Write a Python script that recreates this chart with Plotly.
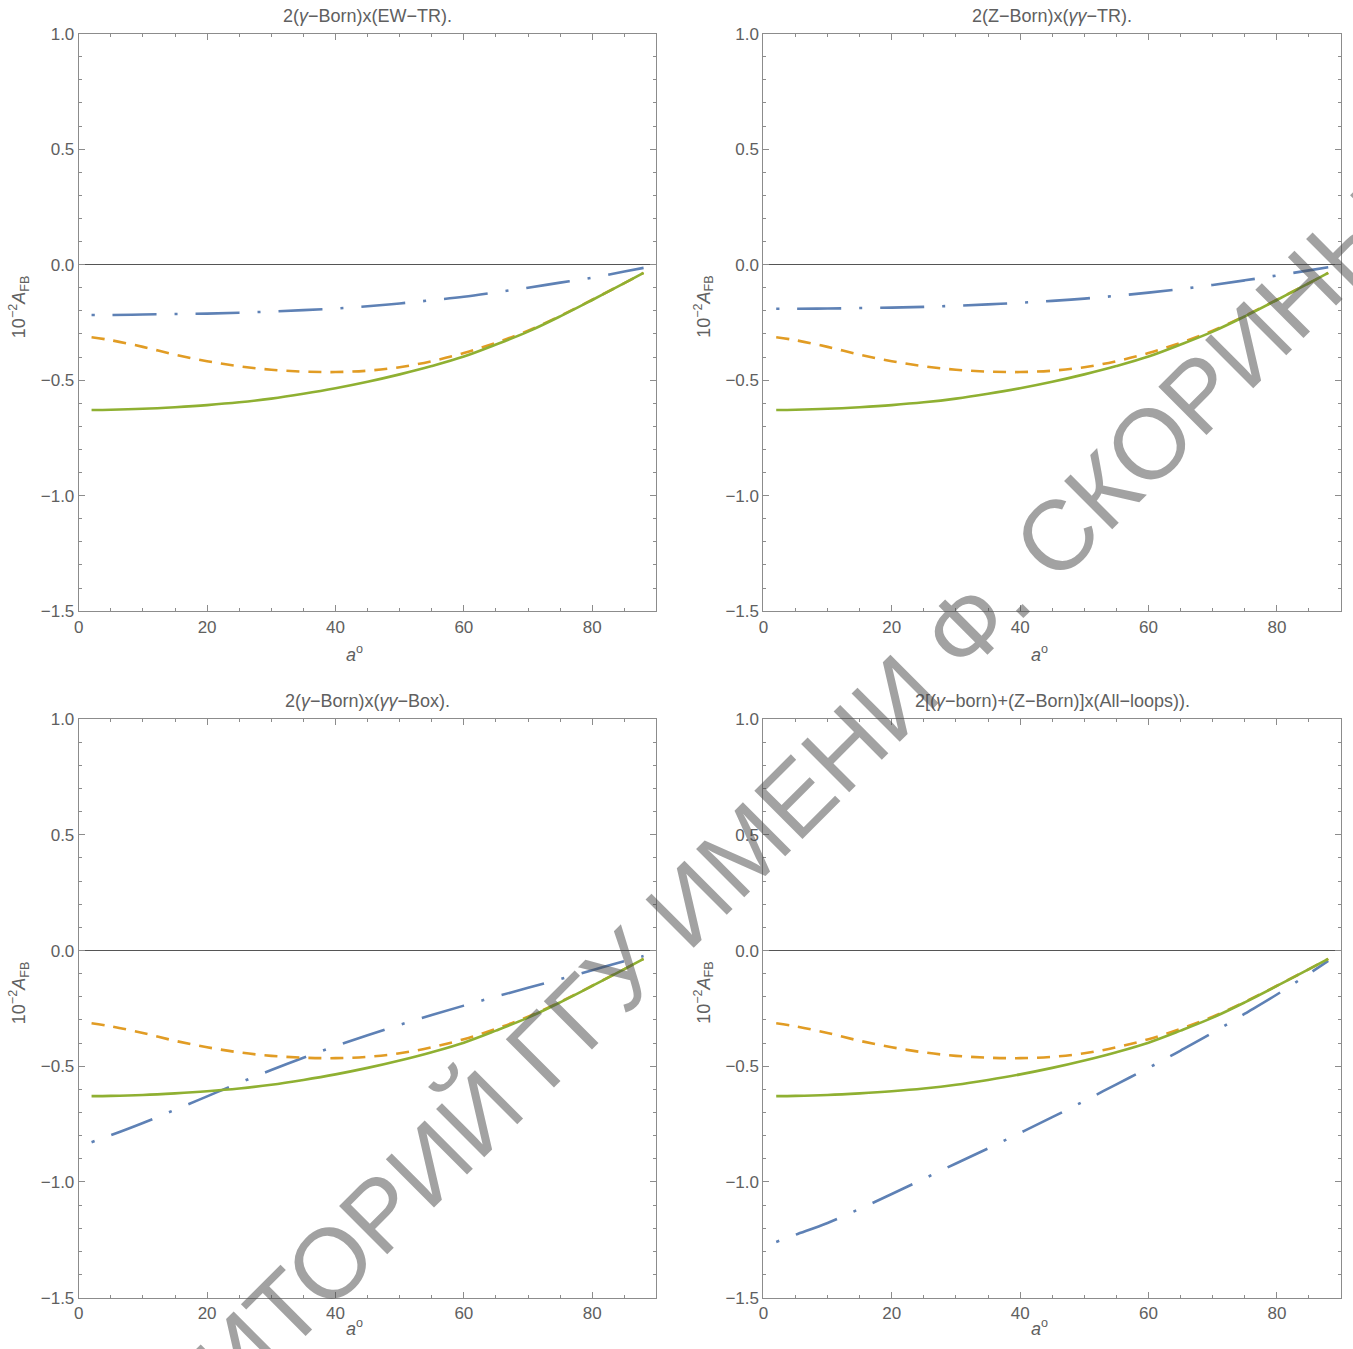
import plotly.graph_objects as go

# ---------------- data ----------------
x_deg = [2, 5, 10, 15, 20, 25, 30, 35, 40, 45, 50, 55, 60, 65, 70, 75, 80, 85, 88]

green_all = [-0.629, -0.628, -0.624, -0.617, -0.608, -0.596, -0.580, -0.559, -0.535, -0.507,
             -0.475, -0.439, -0.398, -0.346, -0.290, -0.224, -0.153, -0.080, -0.036]
orange_all = [-0.314, -0.327, -0.356, -0.390, -0.418, -0.440, -0.455, -0.463, -0.465, -0.459,
              -0.444, -0.418, -0.383, -0.338, -0.286, -0.222, -0.152, -0.080, -0.036]

blue_tl = [-0.218, -0.218, -0.216, -0.214, -0.212, -0.208, -0.203, -0.197, -0.190, -0.180,
           -0.168, -0.154, -0.139, -0.120, -0.100, -0.078, -0.057, -0.030, -0.014]
blue_tr = [-0.191, -0.191, -0.190, -0.188, -0.186, -0.183, -0.178, -0.172, -0.165, -0.157,
           -0.147, -0.135, -0.121, -0.106, -0.088, -0.068, -0.047, -0.025, -0.011]
blue_bl = [-0.828, -0.798, -0.745, -0.688, -0.630, -0.572, -0.516, -0.463, -0.413, -0.366,
           -0.321, -0.279, -0.238, -0.199, -0.161, -0.123, -0.085, -0.046, -0.024]
blue_br = [-1.259, -1.228, -1.177, -1.116, -1.052, -0.986, -0.920, -0.855, -0.788, -0.720,
           -0.650, -0.578, -0.507, -0.432, -0.355, -0.273, -0.190, -0.100, -0.045]

titles = [
    "2(<i>γ</i>−Born)x(EW−TR).",
    "2(Z−Born)x(<i>γγ</i>−TR).",
    "2(<i>γ</i>−Born)x(<i>γγ</i>−Box).",
    "2[(<i>γ</i>−born)+(Z−Born)]x(All−loops)).",
]
blue_series = [blue_tl, blue_tr, blue_bl, blue_br]

x_range = [0, 90]
y_range = [-1.5, 1.0]
watermark = "РЕПОЗИТОРИЙ ГГУ ИМЕНИ Ф. СКОРИНЫ"

# ---------------- layout constants ----------------
W, H = 1353, 1349
BLUE, ORANGE, GREEN = "#5E81B5", "#E19C24", "#8FB032"
FRAME = "#8c8c8c"
TXT = "#606060"
FONT = "Liberation Sans, Arial, sans-serif"

# target panel pixel boxes in the picture: (left, right, top, bottom)
boxes = [(78, 656, 33, 611), (763, 1341, 33, 611),
         (78, 656, 719, 1298), (763, 1341, 719, 1298)]

# page -> picture calibration observed from earlier renders
SX, CX = 0.9968, 4.25
SY, CY = 0.9866, 8.4

def px(v):
    return ((v - CX) / SX) / W

def py(v):
    return 1 - ((v - CY) / SY) / H

fig = go.Figure()
layout = dict(
    width=W, height=H, margin=dict(l=0, r=0, t=0, b=0),
    paper_bgcolor="white", plot_bgcolor="white", showlegend=False,
    font=dict(family=FONT, color=TXT),
)
annotations = []

for i, (l, r, t, b) in enumerate(boxes):
    n = "" if i == 0 else str(i + 1)
    xa, ya = "x" + n, "y" + n
    fig.add_trace(go.Scatter(x=x_deg, y=blue_series[i], mode="lines", xaxis=xa, yaxis=ya,
                             line=dict(color=BLUE, width=2.6, dash="3px,18px,44px,18px", shape="spline")))
    fig.add_trace(go.Scatter(x=x_deg, y=orange_all, mode="lines", xaxis=xa, yaxis=ya,
                             line=dict(color=ORANGE, width=2.6, dash="13px,9px", shape="spline")))
    fig.add_trace(go.Scatter(x=x_deg, y=green_all, mode="lines", xaxis=xa, yaxis=ya,
                             line=dict(color=GREEN, width=2.6, shape="spline")))

    layout["xaxis" + n] = dict(
        domain=[px(l), px(r)], range=x_range, anchor=ya,
        showgrid=False, zeroline=False, showline=True, linecolor=FRAME, linewidth=1,
        mirror="allticks", ticks="inside", ticklen=6, tickcolor=FRAME,
        tick0=0, dtick=20, tickfont=dict(size=17, color=TXT, family=FONT),
        minor=dict(ticks="inside", ticklen=3, dtick=5, tickcolor=FRAME, showgrid=False),
    )
    layout["yaxis" + n] = dict(
        domain=[py(b), py(t)], range=y_range, anchor=xa,
        showgrid=False, zeroline=True, zerolinecolor="#555555", zerolinewidth=1,
        showline=True, linecolor=FRAME, linewidth=1,
        mirror="allticks", ticks="inside", ticklen=6, tickcolor=FRAME,
        tick0=0, dtick=0.5, tickformat=".1f", tickfont=dict(size=17, color=TXT, family=FONT),
        minor=dict(ticks="inside", ticklen=3, dtick=0.1, tickcolor=FRAME, showgrid=False),
    )
    cx = (l + r) / 2
    xlab_y = b + 42 if i < 2 else b + 30
    annotations.append(dict(text=titles[i], x=px(cx), y=py(t - 18), xref="paper", yref="paper",
                            showarrow=False, xanchor="center", yanchor="middle",
                            font=dict(size=18, color=TXT, family=FONT)))
    annotations.append(dict(text="<i>a</i><sup>o</sup>", x=px(cx - 13), y=py(xlab_y), xref="paper", yref="paper",
                            showarrow=False, xanchor="center", yanchor="middle",
                            font=dict(size=18, color=TXT, family=FONT)))
    annotations.append(dict(text="10<sup>−2</sup><i>A</i><sub>FB</sub>", x=px(l - 60), y=py((t + b) / 2 - 16),
                            xref="paper", yref="paper", textangle=-90,
                            showarrow=False, xanchor="center", yanchor="middle",
                            font=dict(size=18, color=TXT, family=FONT)))

annotations.append(dict(text=watermark, x=px(679), y=py(914), xref="paper", yref="paper",
                        textangle=-45, showarrow=False, xanchor="center", yanchor="middle",
                        font=dict(size=99, color="rgba(70,70,70,0.5)",
                                  family="Liberation Sans, Arial, sans-serif")))

layout["annotations"] = annotations
fig.update_layout(**layout)
fig.write_html(
    "out.html",
    config={"displayModeBar": False},
    post_script="document.body.style.margin='0';document.body.style.overflow='hidden';",
)
